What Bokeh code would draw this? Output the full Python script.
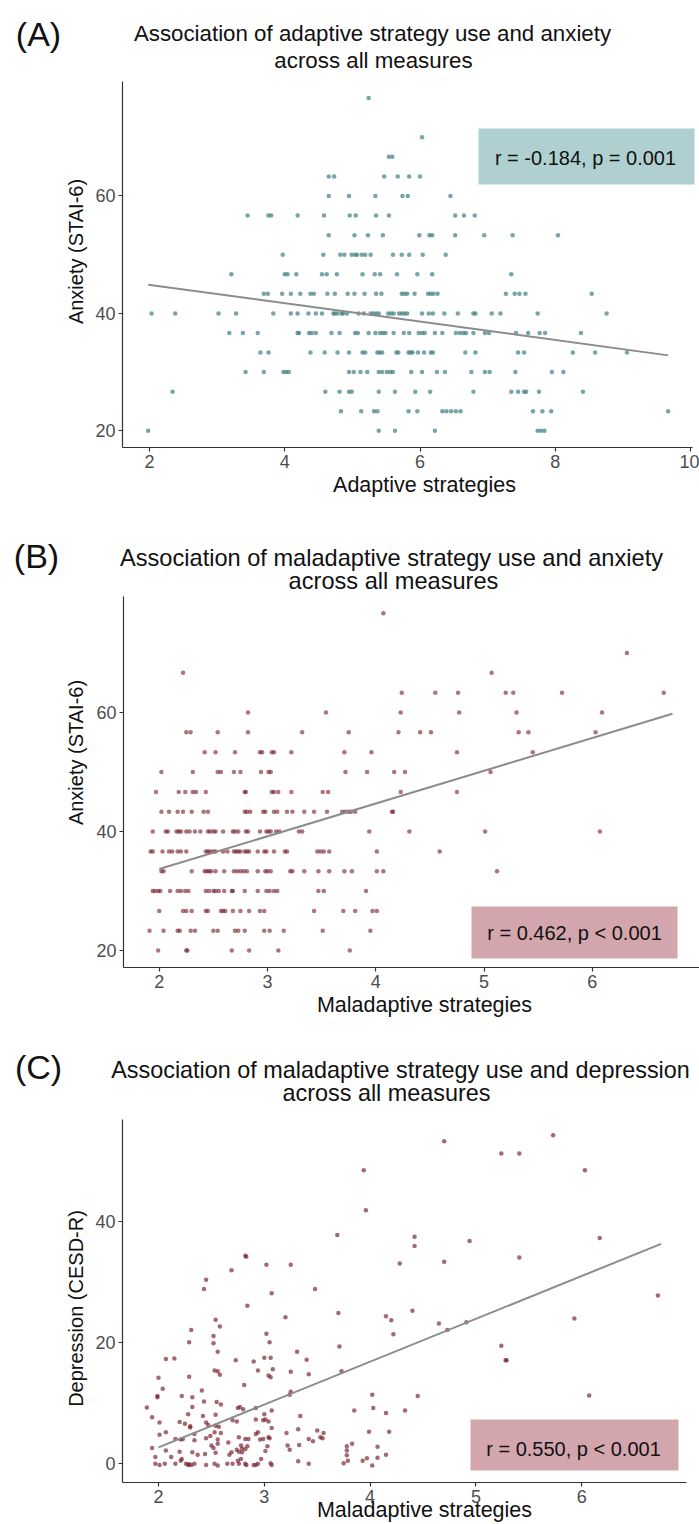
from bokeh.plotting import figure
from bokeh.layouts import column
from bokeh.models import Label, Range1d, FixedTicker
from bokeh.embed import file_html
from bokeh.resources import INLINE

FONT = "Liberation Sans"

# ---------------- Panel A data (adaptive strategies vs STAI-6) ----------------
stai_levels = [76.67, 70.00, 66.67, 63.33, 60.00, 56.67, 53.33, 50.00, 46.67,
               43.33, 40.00, 36.67, 33.33, 30.00, 26.67, 23.33, 20.00]
a_x_by_level = [
    [5.24],
    [6.03],
    [5.54, 5.59],
    [4.65, 4.73, 5.47, 5.67, 5.84, 6.00],
    [4.65, 4.95, 5.34, 5.74, 5.82, 6.45],
    [3.45, 3.76, 3.80, 4.19, 4.58, 4.96, 5.05, 5.35, 5.54, 6.52, 6.65, 6.81],
    [4.65, 5.03, 5.23, 5.45, 5.99, 6.14, 6.18, 6.52, 6.95, 7.37, 8.04],
    [3.97, 4.57, 4.82, 4.88, 4.99, 5.04, 5.07, 5.14, 5.19, 5.27, 5.60, 5.73, 5.84, 6.04, 6.38],
    [3.21, 4.00, 4.04, 4.17, 4.55, 4.62, 4.77, 5.15, 5.33, 5.41, 5.66, 5.96, 6.18, 7.35],
    [3.69, 3.75, 3.96, 4.09, 4.23, 4.38, 4.43, 4.63, 4.74, 4.93, 5.03, 5.18, 5.35, 5.43,
     5.73, 5.77, 5.81, 5.92, 6.12, 6.16, 6.20, 6.26, 7.27, 7.40, 7.47, 7.56, 8.54],
    [2.03, 2.38, 3.02, 3.28, 3.83, 4.09, 4.19, 4.35, 4.46, 4.55, 4.72, 4.74, 4.78, 4.84,
     4.86, 4.92, 5.09, 5.17, 5.27, 5.31, 5.35, 5.39, 5.53, 5.57, 5.61, 5.69, 5.73, 5.77,
     5.81, 6.03, 6.13, 6.19, 6.36, 6.56, 6.79, 6.82, 7.06, 7.19, 7.74, 8.76],
    [3.18, 3.38, 3.60, 4.19, 4.21, 4.36, 4.40, 4.46, 4.69, 4.81, 5.04, 5.08, 5.24, 5.34,
     5.41, 5.45, 5.49, 5.61, 5.76, 5.84, 5.98, 6.03, 6.07, 6.22, 6.33, 6.53, 6.59, 6.64,
     6.68, 6.79, 6.96, 7.02, 7.42, 7.60, 7.77, 7.85, 8.38],
    [3.64, 3.76, 4.38, 4.59, 4.78, 4.95, 5.15, 5.19, 5.37, 5.40, 5.44, 5.65, 5.68, 5.83,
     5.86, 5.89, 5.97, 6.06, 6.16, 6.19, 6.67, 6.82, 7.45, 7.54, 8.26, 8.59, 9.06],
    [3.42, 3.69, 3.98, 4.02, 4.06, 4.95, 5.02, 5.12, 5.22, 5.39, 5.44, 5.51, 5.56, 5.60,
     5.87, 6.03, 6.25, 6.37, 6.76, 6.96, 7.03, 7.41, 7.95, 8.12],
    [2.34, 4.60, 4.81, 4.95, 4.99, 5.39, 5.63, 5.93, 6.15, 6.79, 7.35, 7.45, 7.54, 7.57, 7.76, 8.41],
    [4.83, 5.13, 5.32, 5.37, 5.83, 5.96, 6.33, 6.39, 6.46, 6.53, 6.60, 7.67, 7.81, 7.94, 9.67],
    [1.98, 5.39, 5.63, 6.22, 7.74, 7.79, 7.84],
]
a_fit_x = [1.98, 9.67]
a_fit_y = [44.9, 32.85]
a_stat = "r = -0.184, p = 0.001"

# ---------------- Panel B data (maladaptive strategies vs STAI-6) ----------------
b_x_by_level = [
    [4.07],
    [6.32],
    [2.22, 5.07],
    [4.24, 4.55, 4.76, 5.20, 5.27, 5.72, 6.66],
    [2.82, 3.54, 4.23, 4.77, 5.30, 6.09],
    [2.25, 2.29, 2.54, 2.82, 3.32, 3.75, 4.21, 4.41, 4.51, 5.32, 5.41, 6.03],
    [2.42, 2.52, 2.70, 2.93, 2.95, 3.04, 3.06, 3.22, 3.71, 3.96, 4.75, 5.45],
    [2.02, 2.31, 2.54, 2.57, 2.69, 2.75, 2.94, 3.01, 3.03, 3.72, 3.92, 4.17, 4.27, 5.06],
    [1.97, 2.18, 2.24, 2.31, 2.34, 2.43, 2.79, 2.80, 3.04, 3.06, 3.10, 3.22, 3.51, 3.56, 4.23, 4.75],
    [2.02, 2.09, 2.17, 2.22, 2.30, 2.41, 2.45, 2.79, 2.81, 2.84, 2.96, 2.98, 3.06, 3.09,
     3.18, 3.23, 3.34, 3.43, 3.55, 3.69, 3.72, 3.75, 3.77, 3.81, 4.15, 4.16],
    [1.94, 2.06, 2.08, 2.16, 2.18, 2.20, 2.25, 2.28, 2.33, 2.38, 2.45, 2.47, 2.50, 2.52,
     2.59, 2.68, 2.70, 2.73, 2.80, 2.82, 2.93, 2.99, 3.01, 3.03, 3.08, 3.11, 3.29, 3.32,
     3.94, 4.31, 5.01, 6.07],
    [1.92, 1.94, 2.03, 2.09, 2.12, 2.17, 2.20, 2.25, 2.43, 2.45, 2.47, 2.50, 2.52, 2.59,
     2.63, 2.69, 2.71, 2.73, 2.75, 2.79, 2.81, 2.83, 2.91, 2.97, 2.99, 3.06, 3.16, 3.18,
     3.46, 3.49, 3.52, 3.57, 4.01, 4.59],
    [2.02, 2.04, 2.30, 2.42, 2.44, 2.46, 2.48, 2.52, 2.60, 2.69, 2.72, 2.75, 2.78, 2.81,
     2.91, 2.98, 3.00, 3.03, 3.21, 3.23, 3.34, 3.47, 3.57, 3.71, 3.78, 4.01, 4.07, 5.12],
    [1.94, 1.96, 1.99, 2.01, 2.10, 2.17, 2.20, 2.24, 2.27, 2.43, 2.46, 2.50, 2.52, 2.55,
     2.60, 2.67, 2.68, 2.79, 2.91, 2.99, 3.02, 3.06, 3.09, 3.47, 3.52, 3.91],
    [2.00, 2.22, 2.25, 2.30, 2.43, 2.45, 2.57, 2.59, 2.61, 2.68, 2.75, 2.83, 2.93, 2.97,
     3.43, 3.70, 3.81, 3.97, 4.01],
    [1.91, 2.04, 2.17, 2.19, 2.29, 2.33, 2.50, 2.54, 2.70, 2.73, 2.79, 2.97, 3.02, 3.15, 3.51, 3.95],
    [1.99, 2.25, 2.26, 2.67, 2.83, 3.10, 3.76],
]
b_fit_x = [2.00, 6.74]
b_fit_y = [33.7, 59.8]
b_stat = "r = 0.462, p < 0.001"

# ---------------- Panel C data (maladaptive strategies vs CESD-R) ----------------
c_x = [4.70, 5.73, 5.24, 5.41, 3.94, 6.03, 3.96, 3.69, 4.42, 4.42, 4.94, 6.17, 5.41,
       2.82, 2.83, 4.70, 4.28, 3.02, 3.25, 2.69, 2.45, 2.43, 3.48, 3.07, 6.72, 2.84,
       3.70, 4.40, 3.20, 4.15, 4.20, 5.93, 2.54, 2.58, 4.65, 4.91, 4.73, 2.31, 4.22,
       3.02, 2.52, 2.29, 2.52, 3.05, 3.71, 5.24, 2.56, 3.31, 2.07, 2.15, 2.73, 2.90,
       3.00, 3.06, 3.40, 5.28, 5.29, 2.53, 2.56, 2.94, 3.08, 3.25, 3.73, 2.58, 3.04,
       3.06, 3.42, 2.00, 2.29, 2.81, 2.04, 2.41, 3.25, 3.24, 1.99, 1.99, 2.22, 2.32,
       4.02, 4.45, 6.07, 2.43, 2.55, 2.59, 2.32, 1.89, 2.75, 2.77, 2.80, 4.03, 2.92,
       2.28, 3.85, 4.33, 4.15, 2.42, 2.54, 3.34, 1.94, 2.70, 2.74, 2.92, 2.99, 3.01,
       3.00, 3.07, 2.01, 2.20, 2.25, 2.45, 2.47, 3.04, 2.30, 2.54, 2.57, 3.07, 2.30,
       2.07, 2.59, 2.94, 2.92, 3.21, 3.32, 3.50, 3.56, 3.53, 3.55, 3.99, 4.18, 2.01,
       2.34, 2.49, 2.53, 2.16, 2.21, 2.23, 2.34, 2.45, 2.56, 2.66, 2.76, 2.82, 2.85,
       2.96, 2.99, 3.04, 3.05, 3.42, 3.46, 1.94, 3.78, 3.83, 4.07, 2.07, 2.20, 2.32,
       2.50, 2.52, 2.56, 2.78, 2.79, 2.84, 2.82, 2.74, 2.44, 2.54, 2.67, 2.69, 2.76,
       2.79, 3.03, 3.22, 3.24, 3.33, 3.01, 3.78, 3.78, 3.97, 3.93, 4.07, 4.15, 2.97,
       2.22, 1.97, 1.97, 2.01, 2.06, 2.16, 2.21, 2.26, 2.28, 2.29, 2.31, 2.34, 2.45,
       2.53, 2.56, 2.65, 2.70, 2.75, 2.76, 2.78, 2.82, 2.83, 2.90, 2.92, 2.94, 3.06,
       3.07, 3.32, 3.42, 3.75, 3.79, 4.02, 2.12, 2.37]
c_y = [53.2, 54.2, 51.2, 51.2, 48.4, 48.4, 41.8, 37.7, 37.4, 35.9, 36.7, 37.2, 34.0,
       34.3, 34.1, 33.3, 33.0, 32.8, 32.8, 31.9, 30.3, 28.8, 28.8, 28.1, 27.7, 26.0,
       24.8, 25.2, 24.1, 24.3, 23.6, 23.9, 23.7, 22.6, 23.1, 23.3, 22.0, 22.0, 21.3,
       21.4, 21.0, 20.0, 19.8, 20.0, 19.3, 19.4, 18.4, 18.4, 17.2, 17.3, 17.0, 16.8,
       17.4, 17.4, 17.1, 17.0, 17.0, 15.3, 15.2, 15.3, 15.5, 15.1, 15.2, 14.6, 14.5,
       14.2, 14.7, 14.1, 14.3, 12.9, 12.3, 12.0, 11.8, 11.3, 11.1, 10.9, 11.1, 10.9,
       11.3, 11.1, 11.2, 10.2, 10.1, 9.7, 9.3, 9.2, 9.1, 9.3, 8.9, 9.1, 9.1,
       8.1, 8.7, 8.7, 8.3, 7.8, 8.0, 7.8, 7.6, 7.1, 6.9, 7.2, 7.1, 7.2,
       8.1, 8.7, 6.7, 6.8, 6.5, 6.7, 6.3, 6.9, 6.1, 6.2, 6.0, 5.8, 5.9,
       5.1, 5.0, 5.1, 4.8, 5.0, 5.6, 5.4, 5.0, 4.3, 4.1, 5.2, 5.2, 4.7,
       4.8, 4.5, 5.1, 4.0, 3.9, 4.0, 3.8, 4.1, 3.9, 3.4, 4.3, 4.0, 4.0,
       3.9, 4.0, 4.3, 4.1, 4.0, 3.6, 2.5, 2.8, 3.2, 2.7, 2.1, 1.9, 1.8,
       2.9, 2.5, 3.2, 2.9, 2.4, 2.8, 2.3, 2.2, 1.5, 1.7, 1.4, 1.8, 1.9,
       1.8, 2.8, 2.9, 2.2, 3.0, 2.0, 2.1, 1.3, 0.8, 0.4, 0.9, 1.4, 0.7,
       0.7, 1.0, -0.1, -0.3, -0.1, -0.1, 0.4, -0.1, -0.3, -0.2, -0.3, -0.1, -0.3,
       -0.1, -0.4, -0.1, -0.1, 0.4, -0.1, 0.7, -0.1, -0.3, -0.3, -0.3, -0.1, 0.0,
       -0.3, 0.3, -0.1, 0.0, 0.4, -0.4, 1.0, 1.4]
c_fit_x = [2.00, 6.75]
c_fit_y = [2.6, 36.25]
c_stat = "r = 0.550, p < 0.001"

# ---------------- styling ----------------
TEAL = "#3f7f80"
WINE = "#731a2a"
LINE_GREY = "#8c8c8c"
BOX_TEAL = "#afcfd0"
BOX_PINK = "#d3a5ad"
PAGE_W = 699


def flatten(levels, rows):
    xs, ys = [], []
    for lv, row in zip(levels, rows):
        xs.extend(row)
        ys.extend([lv] * len(row))
    return xs, ys


def to_data(g, px, py_page):
    """page pixel -> data coordinate of the panel"""
    py = py_page - g["top"]
    x = g["x0"] + (px - g["L"]) * (g["x1"] - g["x0"]) / (g["Rpx"] - g["L"])
    y = g["y1"] - (py - g["T"]) * (g["y1"] - g["y0"]) / (g["Bpx"] - g["T"])
    return x, y


def make_panel(g):
    # the frame covers the whole canvas; the plotting area is bounded by the axes
    xs, ys_top = to_data(g, 0, g["top"])
    xe, ys_bot = to_data(g, PAGE_W, g["top"] + g["H"])
    p = figure(width=PAGE_W, height=g["H"], output_backend="svg", toolbar_location=None,
               x_range=Range1d(xs, xe), y_range=Range1d(ys_bot, ys_top),
               min_border=0)
    p.xgrid.visible = False
    p.ygrid.visible = False
    p.outline_line_color = None
    p.background_fill_color = "white"
    p.border_fill_color = "white"
    p.xaxis.fixed_location = g["y0"]
    p.yaxis.fixed_location = g["x0"]
    p.xaxis.bounds = (g["x0"], g["x1"])
    p.yaxis.bounds = (g["y0"], g["y1"])
    for ax in (p.xaxis[0], p.yaxis[0]):
        ax.axis_line_color = "#333333"
        ax.axis_line_width = 1.2
        ax.major_tick_line_color = "#333333"
        ax.major_tick_line_width = 1.2
        ax.major_tick_out = 4
        ax.major_tick_in = 0
        ax.minor_tick_line_color = None
        ax.major_label_text_font = FONT
        ax.major_label_text_font_size = "18px"
        ax.major_label_text_color = "#4d4d4d"
        ax.major_label_standoff = 3
    p.xaxis.ticker = FixedTicker(ticks=g["xticks"])
    p.yaxis.ticker = FixedTicker(ticks=g["yticks"])
    return p


def add_text(p, g, text, px, py, size, align="center", angle=0.0, color="#111111"):
    x, y = to_data(g, px, py)
    p.add_layout(Label(x=x, y=y, text=text, text_font=FONT, text_font_size=size,
                       text_align=align, text_baseline="middle", angle=angle,
                       text_color=color))


def add_box(p, g, left, top, right, bottom, color):
    x0, y1 = to_data(g, left, top)
    x1, y0 = to_data(g, right, bottom)
    p.quad(left=x0, right=x1, bottom=y0, top=y1, fill_color=color, line_color=None)


panels = [
    dict(top=0, H=515, L=122, Rpx=692, T=81, Bpx=447, x0=1.60, x1=10.03, y0=17.16, y1=79.5,
         xticks=[2, 4, 6, 8, 10], yticks=[20, 40, 60]),
    dict(top=515, H=520, L=123, Rpx=699, T=81, Bpx=452, x0=1.67, x1=6.99, y0=17.16, y1=79.5,
         xticks=[2, 3, 4, 5, 6], yticks=[20, 40, 60]),
    dict(top=1035, H=489, L=122, Rpx=686, T=84, Bpx=447, x0=1.66, x1=6.99, y0=-3.2, y1=56.8,
         xticks=[2, 3, 4, 5, 6], yticks=[0, 20, 40]),
]
ROT = 1.5707963

# ----- Panel A -----
gA = panels[0]
pA = make_panel(gA)
ax_, ay_ = flatten(stai_levels, a_x_by_level)
add_box(pA, gA, 478, 128, 694, 184, BOX_TEAL)
pA.scatter(ax_, ay_, size=4.5, fill_color=TEAL, fill_alpha=0.7, line_color=None)
pA.line(a_fit_x, a_fit_y, line_color=LINE_GREY, line_width=2)
add_text(pA, gA, a_stat, 585, 157, "20px")
add_text(pA, gA, "(A)", 38, 33, "34px")
add_text(pA, gA, "Association of adaptive strategy use and anxiety", 372, 33, "22.3px")
add_text(pA, gA, "across all measures", 373, 60, "22.3px")
add_text(pA, gA, "Adaptive strategies", 424, 484, "21.5px")
add_text(pA, gA, "Anxiety (STAI-6)", 75, 251, "20px", angle=ROT)

# ----- Panel B -----
gB = panels[1]
pB = make_panel(gB)
bx_, by_ = flatten(stai_levels, b_x_by_level)
add_box(pB, gB, 471, 906, 677, 958, BOX_PINK)
pB.scatter(bx_, by_, size=4.5, fill_color=WINE, fill_alpha=0.6, line_color=None)
pB.line(b_fit_x, b_fit_y, line_color=LINE_GREY, line_width=2)
add_text(pB, gB, b_stat, 574, 932, "20px")
add_text(pB, gB, "(B)", 36, 555, "34px")
add_text(pB, gB, "Association of maladaptive strategy use and anxiety", 391, 557, "23.6px")
add_text(pB, gB, "across all measures", 393, 580, "23.6px")
add_text(pB, gB, "Maladaptive strategies", 424, 1004, "21.5px")
add_text(pB, gB, "Anxiety (STAI-6)", 75, 752, "20px", angle=ROT)

# ----- Panel C -----
gC = panels[2]
pC = make_panel(gC)
add_box(pC, gC, 470, 1419, 678, 1470, BOX_PINK)
pC.scatter(c_x, c_y, size=4.5, fill_color=WINE, fill_alpha=0.65, line_color=None)
pC.line(c_fit_x, c_fit_y, line_color=LINE_GREY, line_width=2)
add_text(pC, gC, c_stat, 573, 1448, "20px")
add_text(pC, gC, "(C)", 38, 1066, "34px")
add_text(pC, gC, "Association of maladaptive strategy use and depression", 400, 1069, "23.4px")
add_text(pC, gC, "across all measures", 386, 1092, "23.4px")
add_text(pC, gC, "Maladaptive strategies", 424, 1509, "21.5px")
add_text(pC, gC, "Depression (CESD-R)", 75, 1308, "20px", angle=ROT)

layout = column(pA, pB, pC, spacing=0)
open("out.html", "w").write(file_html(layout, INLINE))
